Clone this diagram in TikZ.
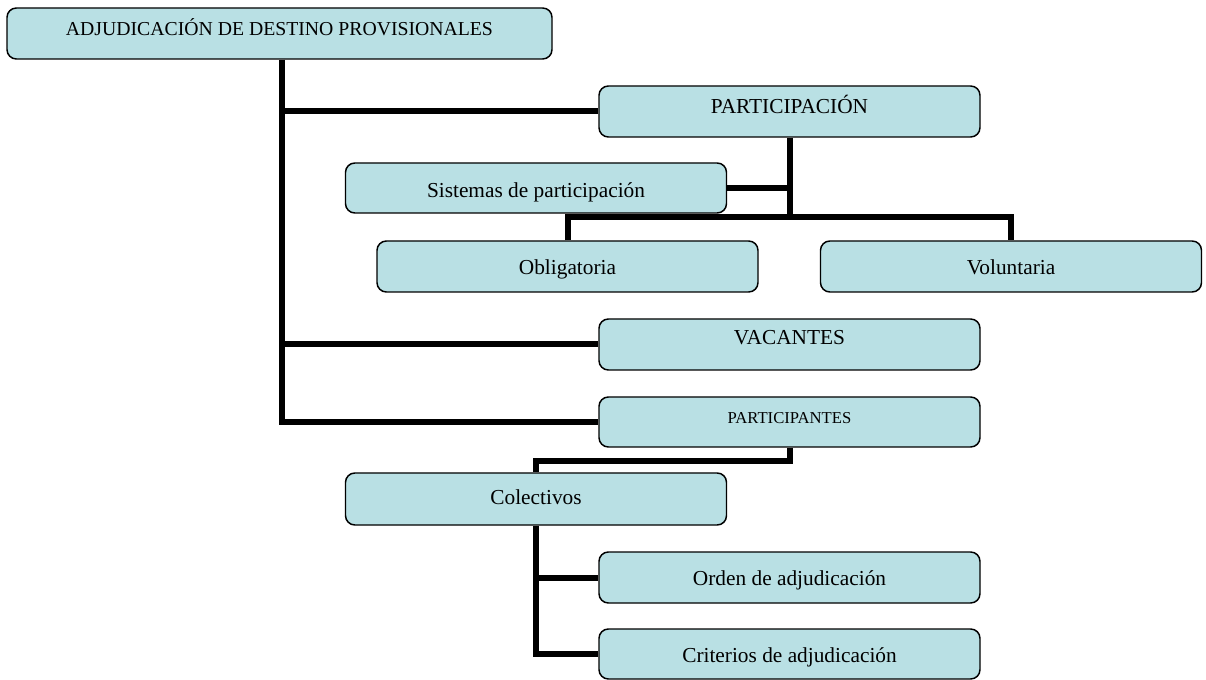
\documentclass[tikz,border=0pt]{standalone}
\usepackage{fontspec}
\setmainfont{Liberation Serif}
\definecolor{boxfill}{RGB}{185,224,228}
\tikzset{
  box/.style={draw=black, line width=1.1pt, fill=boxfill, rounded corners=7pt,
    minimum width=285.75pt, minimum height=38.25pt, inner sep=2pt,
    text height=1.5ex+6pt, text depth=.25ex, font=\fontsize{16}{19}\selectfont},
  conn/.style={draw=black, line width=4.5pt, line join=miter},
  up/.style={text depth=.25ex+#1},
  dn/.style={text height=1.5ex+#1},
}
\begin{document}
\begin{tikzpicture}[x=0.75pt,y=-0.75pt]
\fill[white] (0,0) rectangle (1206,680);
\useasboundingbox (0,0) rectangle (1206,680);
\coordinate (trunkx) at (282,0);
\coordinate (bar) at (0,217);
\coordinate (lv) at (0,461);

\node[box, minimum width=408.75pt, font=\fontsize{14.8}{17}\selectfont, up=9pt] (root) at (279.5,33.5) {ADJUDICACIÓN DE DESTINO PROVISIONALES};
\node[box, up=9pt] (part) at (789.5,111.5) {PARTICIPACIÓN};
\node[box, minimum height=37.5pt, dn=9pt] (sist) at (536,188) {Sistemas de participación};
\node[box] (oblig) at (567.5,266.5) {Obligatoria};
\node[box] (vol) at (1011,266.5) {Voluntaria};
\node[box, up=11.5pt] (vac) at (789.5,344.5) {VACANTES};
\node[box, minimum height=37.5pt, font=\fontsize{12.5}{15}\selectfont, up=9.5pt] (ptes) at (789.5,422) {PARTICIPANTES};
\node[box, minimum height=39pt, up=3pt] (col) at (536,499) {Colectivos};
\node[box] (orden) at (789.5,577.5) {Orden de adjudicación};
\node[box, minimum height=37.5pt, dn=7.5pt] (crit) at (789.5,654) {Criterios de adjudicación};

% trunk and main branches
\draw[conn] (root.south -| trunkx) |- (ptes.west);
\draw[conn] (trunkx |- part.west) -- (part.west);
\draw[conn] (trunkx |- vac.west) -- (vac.west);
% participacion
\draw[conn] (part.south) -- (part.south |- bar);
\draw[conn] (sist.east) -- (part.south |- sist.east);
\draw[conn] (oblig.north) -- (oblig.north |- bar) -- (vol.north |- bar) -- (vol.north);
% participantes
\draw[conn] (ptes.south) -- (ptes.south |- lv) -- (col.north |- lv) -- (col.north);
% colectivos
\draw[conn] (col.south) |- (crit.west);
\draw[conn] (col.south |- orden.west) -- (orden.west);
\end{tikzpicture}
\end{document}
